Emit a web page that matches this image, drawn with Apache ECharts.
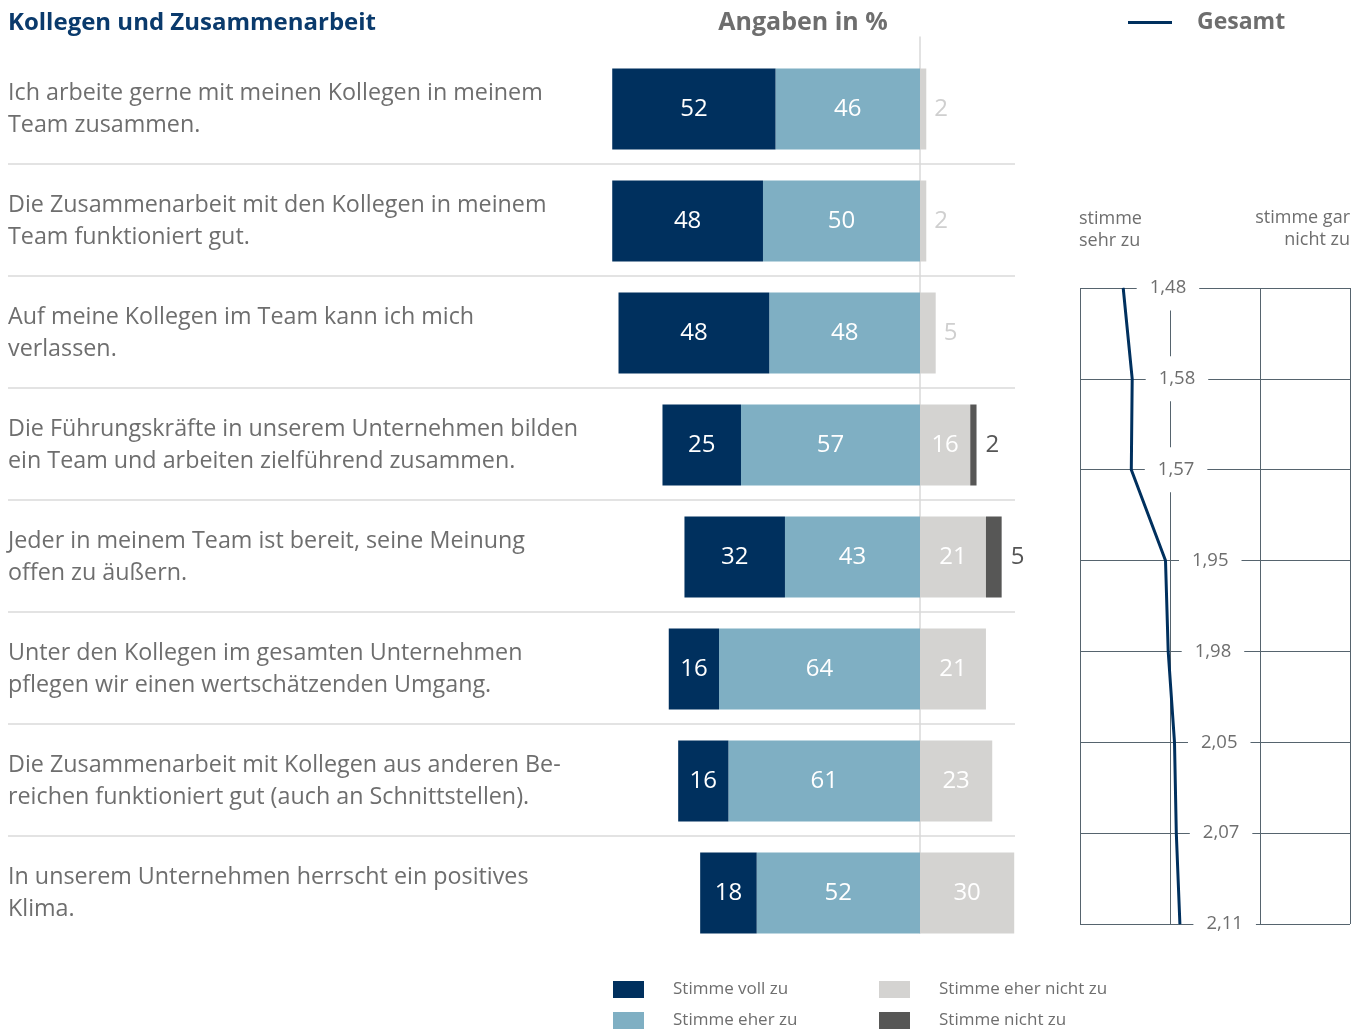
<!DOCTYPE html>
<html lang="de">
<head>
<meta charset="UTF-8">
<title>Kollegen und Zusammenarbeit</title>
<script src="https://cdn.jsdelivr.net/npm/echarts@6/dist/echarts.min.js"></script>
<style>
  html, body { margin: 0; padding: 0; background: #fff; }
  #chart { width: 1352px; height: 1033px; }
</style>
</head>
<body>
<div id="chart"></div>
<script>
// Daten (Angaben in %)
var fragen = [
  'Ich arbeite gerne mit meinen Kollegen in meinem\nTeam zusammen.',
  'Die Zusammenarbeit mit den Kollegen in meinem\nTeam funktioniert gut.',
  'Auf meine Kollegen im Team kann ich mich\nverlassen.',
  'Die Führungskräfte in unserem Unternehmen bilden\nein Team und arbeiten zielführend zusammen.',
  'Jeder in meinem Team ist bereit, seine Meinung\noffen zu äußern.',
  'Unter den Kollegen im gesamten Unternehmen\npflegen wir einen wertschätzenden Umgang.',
  'Die Zusammenarbeit mit Kollegen aus anderen Be-\nreichen funktioniert gut (auch an Schnittstellen).',
  'In unserem Unternehmen herrscht ein positives\nKlima.'
];
var vollZu    = [52, 48, 48, 25, 32, 16, 16, 18];
var eherZu    = [46, 50, 48, 57, 43, 64, 61, 52];
var eherNicht = [2, 2, 5, 16, 21, 21, 23, 30];
var nichtZu   = [0, 0, 0, 2, 5, 0, 0, 0];
// Mittelwerte Gesamt (1 = stimme sehr zu, 4 = stimme gar nicht zu)
var gesamt    = [1.48, 1.58, 1.57, 1.95, 1.98, 2.05, 2.07, 2.11];

var FONT = '"Open Sans", "Noto Sans", sans-serif';
var navy = '#00305e', hellblau = '#7fafc3', hellgrau = '#d4d3d1', dunkelgrau = '#575756';
var textgrau = '#6e6e6e', gitter = '#56646e';

var chart = echarts.init(document.getElementById('chart'));

function absWert(p) { return p.value === 0 ? '' : Math.abs(p.value); }

var barLabel = { show: true, position: 'inside', color: '#fff', fontSize: 24, fontFamily: FONT, formatter: absWert };

var option = {
  animation: false,
  backgroundColor: '#fff',
  textStyle: { fontFamily: FONT },
  graphic: [
    { type: 'text', x: 8, y: 23, style: { text: 'Kollegen und Zusammenarbeit', fill: '#0a3a6c', font: 'bold 24px ' + FONT, verticalAlign: 'middle' } },
    { type: 'text', x: 803, y: 23, style: { text: 'Angaben in %', fill: textgrau, font: 'bold 25px ' + FONT, align: 'center', verticalAlign: 'middle' } },
    { type: 'text', x: 1079, y: 230, style: { text: 'stimme\nsehr zu', fill: textgrau, font: '18px ' + FONT, lineHeight: 22, verticalAlign: 'middle' } },
    { type: 'text', x: 1350, y: 229, style: { text: 'stimme gar\nnicht zu', fill: textgrau, font: '18px ' + FONT, lineHeight: 22, align: 'right', verticalAlign: 'middle' } }
  ],
  legend: [
    {
      left: 613, top: 981, orient: 'vertical', itemWidth: 31, itemHeight: 17, itemGap: 14, padding: 0,
      icon: 'rect', selectedMode: false,
      data: ['Stimme voll zu', 'Stimme eher zu'],
      textStyle: { fontSize: 17, color: textgrau, fontFamily: FONT, padding: [8, 0, 0, 24] }
    },
    {
      left: 879, top: 981, orient: 'vertical', itemWidth: 31, itemHeight: 17, itemGap: 14, padding: 0,
      icon: 'rect', selectedMode: false,
      data: ['Stimme eher nicht zu', 'Stimme nicht zu'],
      textStyle: { fontSize: 17, color: textgrau, fontFamily: FONT, padding: [8, 0, 0, 24] }
    },
    {
      left: 1128, top: 11, itemWidth: 44, itemHeight: 3, padding: 0, icon: 'rect', selectedMode: false,
      data: ['Gesamt'],
      textStyle: { fontSize: 23, fontWeight: 'bold', color: textgrau, fontFamily: FONT, padding: [0, 0, 0, 20] }
    }
  ],
  grid: [
    { left: 8, top: 53, width: 1007, height: 896 },   // Balken
    { left: 8, top: 164, width: 1007, height: 672 },  // Trennlinien
    { left: 920, top: 37, width: 95, height: 896 },   // Mittellinie
    { left: 1080, top: 288, width: 270, height: 636 } // Gesamt
  ],
  xAxis: [
    { gridIndex: 0, type: 'value', min: -290.4, max: 30.25, show: false },
    { gridIndex: 1, type: 'value', min: 0, max: 1, show: false },
    { gridIndex: 2, type: 'value', min: 0, max: 1, show: false },
    {
      gridIndex: 3, type: 'value', min: 1, max: 4, interval: 1,
      axisLine: { show: false }, axisTick: { show: false }, axisLabel: { show: false },
      splitLine: { show: true, lineStyle: { color: gitter, width: 1 } }
    }
  ],
  yAxis: [
    {
      gridIndex: 0, type: 'category', inverse: true, data: fragen,
      axisLine: { show: false, onZero: false }, axisTick: { show: false }, splitLine: { show: false },
      axisLabel: {
        inside: true, margin: 0, align: 'left', interval: 0, fontSize: 23.3, lineHeight: 32,
        padding: [8, 0, 0, 0], color: textgrau, fontFamily: FONT
      }
    },
    {
      gridIndex: 1, type: 'value', min: 0, max: 6, interval: 1,
      axisLine: { show: false }, axisTick: { show: false }, axisLabel: { show: false },
      splitLine: { show: true, lineStyle: { color: '#dadada', width: 1.5 } }
    },
    {
      gridIndex: 2, type: 'value', min: 0, max: 1,
      axisLine: { show: true, lineStyle: { color: '#d9d9d9', width: 1.5 } },
      axisTick: { show: false }, axisLabel: { show: false }, splitLine: { show: false }
    },
    {
      gridIndex: 3, type: 'category', inverse: true, boundaryGap: false, data: fragen,
      axisLine: { show: false }, axisTick: { show: false }, axisLabel: { show: false },
      splitLine: { show: true, interval: 0, lineStyle: { color: gitter, width: 1 } }
    }
  ],
  series: [
    {
      name: 'Stimme eher zu', type: 'bar', stack: 'a', xAxisIndex: 0, yAxisIndex: 0, barWidth: 81,
      itemStyle: { color: hellblau }, label: barLabel,
      data: eherZu.map(function (v) { return -v; })
    },
    {
      name: 'Stimme voll zu', type: 'bar', stack: 'a', xAxisIndex: 0, yAxisIndex: 0, barWidth: 81,
      itemStyle: { color: navy }, label: barLabel,
      data: vollZu.map(function (v) { return -v; })
    },
    {
      name: 'Stimme eher nicht zu', type: 'bar', stack: 'a', xAxisIndex: 0, yAxisIndex: 0, barWidth: 81,
      itemStyle: { color: hellgrau }, label: barLabel,
      data: eherNicht.map(function (v) {
        return v < 10 ? { value: v, label: { position: 'right', distance: 8, color: '#cfcfcf' } } : v;
      })
    },
    {
      name: 'Stimme nicht zu', type: 'bar', stack: 'a', xAxisIndex: 0, yAxisIndex: 0, barWidth: 81,
      itemStyle: { color: dunkelgrau },
      label: { show: true, position: 'right', distance: 9, color: '#555', fontSize: 24, fontFamily: FONT, formatter: absWert },
      data: nichtZu
    },
    {
      name: 'Gesamt', type: 'line', xAxisIndex: 3, yAxisIndex: 3,
      symbol: 'circle', symbolSize: 1, showSymbol: true,
      itemStyle: { color: navy }, lineStyle: { color: navy, width: 3 },
      label: {
        show: true, position: 'right', distance: 13, backgroundColor: '#fff', padding: [15, 13, 11, 13],
        fontSize: 18.5, color: textgrau, fontFamily: FONT,
        formatter: function (p) { return p.value.toFixed(2).replace('.', ','); }
      },
      emphasis: { disabled: true },
      data: gesamt
    }
  ]
};

chart.setOption(option);
</script>
</body>
</html>
